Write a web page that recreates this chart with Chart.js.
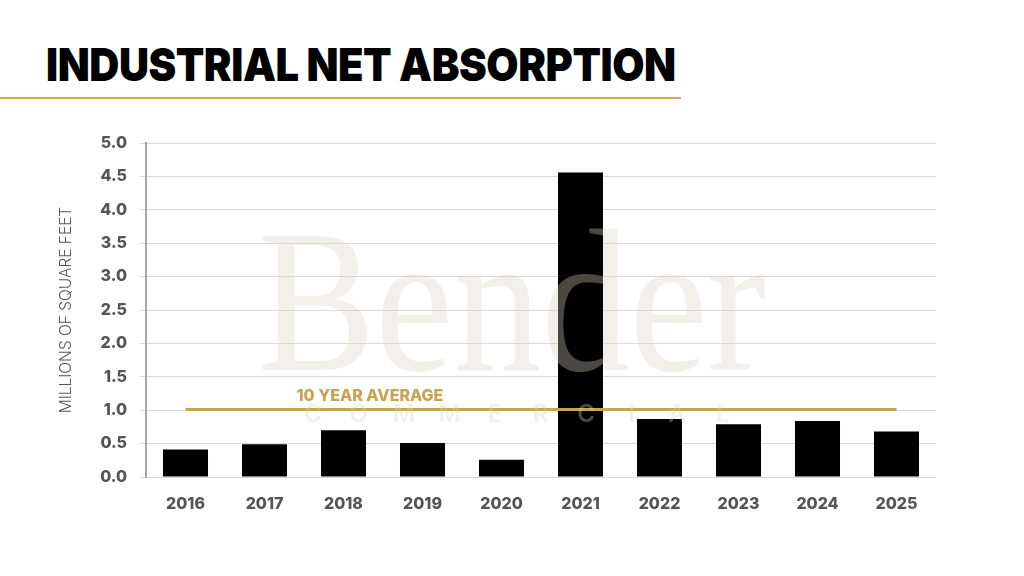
<!DOCTYPE html>
<html>
<head>
<meta charset="utf-8">
<script src="https://cdn.jsdelivr.net/npm/chart.js@4"></script>
<style>
  html, body { margin: 0; padding: 0; background: #fff; }
  #wrap { position: relative; width: 1024px; height: 576px; overflow: hidden; }
  #title {
    position: absolute; left: 46px; top: 36px;
    font-family: "Inter", sans-serif; font-weight: 900; font-size: 46px;
    letter-spacing: -0.5px; color: #000; white-space: nowrap;
    transform: scaleX(0.905); transform-origin: 0 0;
  }
  #rule { position: absolute; left: 0; top: 97px; width: 681px; height: 2px; background: #d4a85a; }
  #chart { position: absolute; left: 0; top: 0; }
</style>
</head>
<body>
<div id="wrap">
  <div id="title">INDUSTRIAL NET ABSORPTION</div>
  <div id="rule"></div>
  <canvas id="chart" width="1024" height="576"></canvas>
</div>
<script>
var years = ["2016", "2017", "2018", "2019", "2020", "2021", "2022", "2023", "2024", "2025"];
var absorption = [0.41, 0.49, 0.70, 0.51, 0.26, 4.56, 0.87, 0.79, 0.84, 0.68];
var tenYearAverage = 1.01;
var avgLabel = "10 YEAR AVERAGE";
var yTitle = "MILLIONS OF SQUARE FEET";

var gold = "#c9a252";
var tickColor = "#555555";

// watermark + average label, drawn on top
var overlay = {
  id: "overlay",
  afterDraw: function (chart) {
    var ctx = chart.ctx;
    var x = chart.scales.x, y = chart.scales.y;
    ctx.save();
    ctx.fillStyle = gold;
    ctx.font = "800 16px Inter, sans-serif";
    ctx.textBaseline = "alphabetic";
    ctx.textAlign = "left";
    ctx.fillText(avgLabel, x.getPixelForValue(1) + 32, y.getPixelForValue(tenYearAverage) - 9);

    ctx.globalAlpha = 0.34;
    ctx.fillStyle = "rgb(219,211,195)";
    ctx.textAlign = "center";
    ctx.save();
    ctx.translate(512, 370);
    ctx.scale(1, 1.15);
    ctx.font = "400 176px 'Liberation Serif', serif";
    ctx.fillText("Bender", 0, 0);
    ctx.restore();
    ctx.font = "600 24px Inter, sans-serif";
    var letters = "COMMERCIAL";
    for (var i = 0; i < letters.length; i++) {
      ctx.fillText(letters[i], 313 + i * 45.5, 422);
    }
    ctx.restore();
  }
};

new Chart("chart", {
  type: "bar",
  data: {
    labels: years,
    datasets: [{
      type: "line",
      data: years.map(function () { return tenYearAverage; }),
      borderColor: gold,
      borderWidth: 3,
      pointRadius: 0,
      fill: false,
      order: 0
    }, {
      data: absorption,
      backgroundColor: "#000000",
      barPercentage: 0.57,
      categoryPercentage: 1.0,
      order: 1
    }]
  },
  options: {
    responsive: false,
    animation: false,
    layout: { padding: { left: 53, right: 88, top: 143, bottom: 0 } },
    plugins: { legend: { display: false }, tooltip: { enabled: false } },
    scales: {
      x: {
        afterFit: function (s) { s.height = 99; },
        grid: { display: false, drawTicks: false },
        border: { display: false },
        ticks: {
          color: tickColor, padding: 18,
          font: { family: "Inter", size: 16, weight: "800" }
        }
      },
      y: {
        min: 0, max: 5,
        afterFit: function (s) { s.width = 93; },
        grid: { color: "#d9d9d9", lineWidth: 1, tickLength: 6 },
        border: { display: true, color: "#a6a6a6", width: 2 },
        ticks: {
          stepSize: 0.5, color: tickColor, padding: 13,
          font: { family: "Inter", size: 16, weight: "800" },
          callback: function (v) { return v.toFixed(1); }
        },
        title: {
          display: true, text: yTitle, color: tickColor, padding: 4,
          font: { family: "Inter", size: 15.5, weight: "300" }
        }
      }
    }
  },
  plugins: [overlay]
});
</script>
</body>
</html>
